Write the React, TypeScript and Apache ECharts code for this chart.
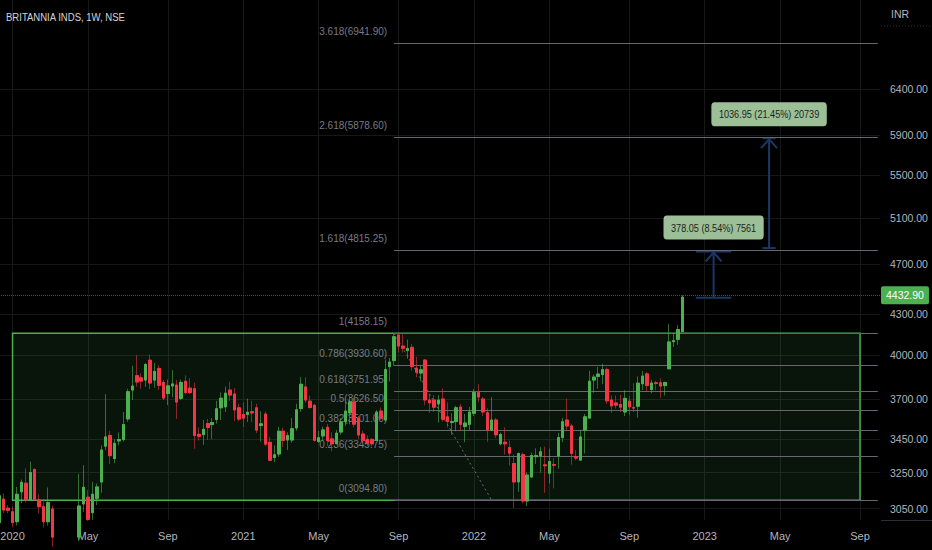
import { useEffect, useRef } from "react";
import * as echarts from "echarts";

// ---------- data ----------
const START_WEEK = "2019-12-16";
const WEEK_COUNT = 199;

// weekly candles: [open, close, low, high]
const WEEKLY_OHLC: number[][] = [
  [2975, 3120, 2960, 3132], [3102, 3042, 3025, 3133], [3052, 3041, 3025, 3069], [3033, 2975, 2950, 3060],
  [2980, 3128, 2960, 3169], [3142, 3195, 3079, 3211], [3190, 3097, 3084, 3275], [3097, 3251, 3090, 3314],
  [3268, 3097, 3090, 3276], [3097, 3060, 3025, 3128], [3060, 2980, 2950, 3102], [2980, 3082, 2960, 3166],
  [3048, 2900, 2850, 3066], [2900, 2450, 2300, 2960], [2450, 2250, 2100, 2600], [2250, 2650, 2200, 2750],
  [2650, 2800, 2600, 2900], [2800, 2900, 2750, 2970], [2900, 3064, 2880, 3244], [3075, 3167, 3033, 3293],
  [3112, 2992, 2985, 3151], [3028, 3128, 2990, 3197], [3106, 3169, 3069, 3188], [3197, 3383, 3137, 3411],
  [3406, 3462, 3383, 3734], [3471, 3349, 3300, 3498], [3332, 3423, 3305, 3447], [3438, 3446, 3411, 3490],
  [3446, 3539, 3434, 3618], [3574, 3750, 3556, 3770], [3761, 3788, 3695, 3926], [3858, 3815, 3783, 4001],
  [3843, 3821, 3770, 3873], [3828, 3935, 3783, 3946], [3965, 3808, 3768, 4004], [3828, 3887, 3777, 3946],
  [3908, 3793, 3761, 3931], [3812, 3708, 3695, 3828], [3738, 3789, 3662, 3832], [3788, 3802, 3714, 3896],
  [3795, 3682, 3574, 3828], [3706, 3812, 3697, 3832], [3820, 3745, 3732, 3860], [3774, 3745, 3734, 3841],
  [3770, 3471, 3390, 3810], [3478, 3466, 3440, 3520], [3476, 3509, 3414, 3567], [3545, 3520, 3443, 3574],
  [3538, 3551, 3448, 3580], [3570, 3639, 3545, 3690], [3645, 3707, 3567, 3745], [3651, 3740, 3618, 3785],
  [3761, 3728, 3690, 3817], [3735, 3631, 3560, 3775], [3645, 3573, 3560, 3671], [3602, 3579, 3523, 3680],
  [3602, 3616, 3554, 3705], [3620, 3612, 3554, 3690], [3645, 3504, 3486, 3671], [3532, 3543, 3434, 3622],
  [3605, 3418, 3406, 3622], [3429, 3322, 3316, 3462], [3338, 3354, 3312, 3410], [3359, 3497, 3342, 3525],
  [3497, 3440, 3400, 3520], [3443, 3470, 3383, 3490], [3443, 3512, 3426, 3580], [3517, 3632, 3500, 3671],
  [3640, 3800, 3620, 3848], [3782, 3695, 3678, 3848], [3688, 3647, 3640, 3725], [3661, 3441, 3434, 3672],
  [3434, 3457, 3425, 3498], [3468, 3505, 3437, 3525], [3522, 3440, 3406, 3543], [3450, 3420, 3375, 3490],
  [3422, 3485, 3415, 3505], [3492, 3552, 3475, 3580], [3557, 3624, 3531, 3688], [3612, 3683, 3540, 3721],
  [3683, 3541, 3522, 3710], [3579, 3474, 3450, 3592], [3480, 3440, 3426, 3500], [3447, 3424, 3406, 3472],
  [3447, 3420, 3406, 3452], [3440, 3617, 3440, 3630], [3624, 3578, 3567, 3647], [3567, 3900, 3556, 3969],
  [3920, 3952, 3818, 3980], [3962, 4133, 3925, 4152], [4146, 4065, 4020, 4158.15], [4065, 4050, 4018, 4150],
  [4033, 4047, 3975, 4112], [4056, 3920, 3892, 4080], [3910, 3881, 3848, 3990], [3876, 3898, 3820, 3928],
  [3966, 3696, 3662, 3970], [3695, 3677, 3612, 3735], [3695, 3649, 3618, 3727], [3670, 3695, 3550, 3727],
  [3702, 3572, 3557, 3771], [3587, 3557, 3520, 3681], [3551, 3557, 3475, 3610], [3557, 3645, 3497, 3657],
  [3650, 3540, 3504, 3671], [3526, 3548, 3430, 3605], [3540, 3617, 3504, 3650], [3610, 3745, 3593, 3767],
  [3745, 3715, 3681, 3802], [3702, 3618, 3593, 3715], [3613, 3505, 3432, 3641], [3505, 3567, 3497, 3715],
  [3567, 3475, 3456, 3580], [3420, 3477, 3411, 3488], [3430, 3420, 3355, 3522], [3398, 3364, 3291, 3440],
  [3303, 3197, 3052, 3355], [3197, 3362, 3142, 3368], [3355, 3091, 3079, 3368], [3091, 3236, 3064, 3251],
  [3225, 3350, 3220, 3368], [3343, 3350, 3300, 3393], [3350, 3372, 3250, 3400], [3295, 3290, 3136, 3403],
  [3247, 3315, 3188, 3391], [3297, 3293, 3161, 3334], [3347, 3458, 3272, 3487], [3458, 3556, 3430, 3580],
  [3567, 3530, 3504, 3705], [3530, 3362, 3296, 3543], [3343, 3335, 3323, 3383], [3323, 3462, 3323, 3504],
  [3504, 3587, 3362, 3605], [3579, 3820, 3579, 3891], [3828, 3848, 3743, 3866], [3853, 3869, 3770, 3918],
  [3866, 3899, 3800, 3940], [3900, 3690, 3669, 3915], [3695, 3657, 3612, 3725], [3676, 3662, 3640, 3725],
  [3666, 3649, 3618, 3730], [3618, 3706, 3592, 3760], [3688, 3651, 3596, 3721], [3646, 3643, 3617, 3807],
  [3655, 3807, 3581, 3852], [3803, 3855, 3761, 3890], [3870, 3791, 3752, 3882], [3765, 3808, 3740, 3828],
  [3810, 3805, 3760, 3823], [3810, 3788, 3710, 3840], [3791, 3812, 3725, 3816], [3905, 4095, 3905, 4228],
  [4097, 4104, 4060, 4160], [4114, 4186, 4074, 4220], [4170, 4432.9, 4170, 4448],
];

const Y_TICKS = [3050, 3250, 3450, 3700, 4000, 4300, 4700, 5100, 5500, 5900, 6400];
const Y_MIN = 2989;
const Y_MAX = 7496;

const FIB_LEVELS = ["0", "0.236", "0.382", "0.5", "0.618", "0.786", "1", "1.618", "2.618", "3.618"];
const FIB_PRICES = [3094.8, 3345.75, 3501.0, 3626.5, 3751.95, 3930.6, 4158.15, 4815.25, 5878.6, 6941.9];
const FIB_START_WEEK = 89;
const FIB_END_WEEK = 198;
const FIB_TREND_END_WEEK = 111;
const BOX_START_WEEK = 3;
const BOX_END_WEEK = 194;
const LAST_PRICE = 4432.9;

const RANGE_FROM = [4427.1, 4834.2];
const RANGE_TO = [4805.15, 5871.15];
const RANGE_START_WEEK = [157, 172];
const RANGE_END_WEEK = [165, 175];
const RANGE_TEXT = ["378.05 (8.54%) 7561", "1036.95 (21.45%) 20739"];

const TITLE = "BRITANNIA INDS, 1W, NSE";
const CURRENCY = "INR";

// ---------- styling ----------
const FONT = '"Liberation Sans", Arial, sans-serif';
const UP = "#4caf50";
const DOWN = "#f23645";
const UP_WICK = "rgba(76,175,80,0.6)";
const DOWN_WICK = "rgba(242,54,69,0.55)";
const GRID_COLOR = "#151815";
const AXIS_TEXT = "#b2b5be";
const FIB_COLOR = "#666870";
const FIB_TEXT = "#787b86";
const ARROW = "#1c3764";
const LABEL_BG = "#9dbf97";
const SQUEEZE = 0.83;

const lnv = (v: number) => Math.log(v);

function buildWeeks(): string[] {
  const d0 = new Date(START_WEEK + "T00:00:00Z").getTime();
  const out: string[] = [];
  for (let i = 0; i < WEEK_COUNT; i++) {
    out.push(new Date(d0 + i * 7 * 86400000).toISOString().slice(0, 10));
  }
  return out;
}

const isMarkWeek = (v: string) => {
  const m = +v.slice(5, 7);
  const day = +v.slice(8, 10);
  return day <= 7 && (m === 1 || m === 5 || m === 9);
};
const labelFor = (v: string) => {
  const m = +v.slice(5, 7);
  return m === 1 ? v.slice(0, 4) : m === 5 ? "May" : "Sep";
};

export default function App() {
  const ref = useRef<HTMLDivElement>(null);

  useEffect(() => {
    const chart = echarts.init(ref.current!, null, { renderer: "svg" });
    const weeks = buildWeeks();

    const wickData = WEEKLY_OHLC.map(([o, c, l, h]) => [lnv(o), lnv(c), lnv(l), lnv(h)]);
    const bodyData = WEEKLY_OHLC.map(([o, c]) => [lnv(o), lnv(c), lnv(Math.min(o, c)), lnv(Math.max(o, c))]);

    const fibLines = FIB_PRICES.map((p) => [
      { coord: [FIB_START_WEEK, lnv(p)] },
      { coord: [FIB_END_WEEK, lnv(p)] },
    ]);
    const fibLabels = FIB_PRICES.map((p, k) => ({
      coord: [FIB_START_WEEK, lnv(p)],
      label: {
        show: true,
        position: "left",
        distance: 7,
        offset: [0, -12],
        formatter: `${FIB_LEVELS[k]}(${p.toFixed(2)})`,
        color: FIB_TEXT,
        fontSize: 10,
        fontFamily: FONT,
      },
    }));

    const option: any = {
      animation: false,
      backgroundColor: "#000000",
      textStyle: { fontFamily: FONT },
      grid: { left: -3, right: 52, top: 0, bottom: 30, outerBoundsMode: "none" },
      xAxis: {
        type: "category",
        data: weeks,
        boundaryGap: true,
        axisLine: { show: false },
        axisTick: { show: false },
        axisLabel: {
          interval: (_i: number, v: string) => isMarkWeek(v),
          formatter: (v: string) => labelFor(v),
          color: AXIS_TEXT,
          fontSize: 11,
          fontFamily: FONT,
          margin: 10,
        },
        splitLine: {
          show: true,
          alignWithLabel: true,
          interval: (_i: number, v: string) => isMarkWeek(v),
          lineStyle: { color: GRID_COLOR, width: 1 },
        },
      },
      yAxis: {
        type: "value",
        position: "right",
        min: lnv(Y_MIN),
        max: lnv(Y_MAX),
        axisLine: { show: false },
        axisTick: { show: false, customValues: Y_TICKS.map(lnv) },
        axisLabel: {
          customValues: Y_TICKS.map(lnv),
          formatter: (v: number) => Math.exp(v).toFixed(2),
          color: AXIS_TEXT,
          fontSize: 10.5,
          fontFamily: FONT,
          margin: 10,
        },
        splitLine: { show: true, lineStyle: { color: GRID_COLOR, width: 1 } },
      },
      series: [
        {
          type: "line",
          data: [],
          clip: false,
          silent: true,
          symbol: "none",
          markArea: {
            silent: true,
            z: 1,
            itemStyle: { color: "rgba(76,175,80,0.12)", borderColor: UP, borderWidth: 1.5 },
            data: [[
              { coord: [BOX_START_WEEK, lnv(FIB_PRICES[6])] },
              { coord: [BOX_END_WEEK, lnv(FIB_PRICES[0])] },
            ]],
          },
          markLine: {
            silent: true,
            z: 1.2,
            symbol: ["none", "none"],
            label: { show: false },
            lineStyle: { color: FIB_COLOR, width: 1, type: "solid" },
            data: [
              ...fibLines,
              [
                { coord: [FIB_START_WEEK, lnv(FIB_PRICES[6])], lineStyle: { color: "#6b6e76", type: [2, 3], width: 1 } },
                { coord: [FIB_TREND_END_WEEK, lnv(FIB_PRICES[0])] },
              ],
              {
                yAxis: lnv(LAST_PRICE),
                lineStyle: { color: "rgba(76,175,80,0.55)", type: "dotted", width: 1 },
                label: {
                  show: true,
                  position: "end",
                  distance: 1,
                  formatter: LAST_PRICE.toFixed(2),
                  backgroundColor: UP,
                  color: "#ffffff",
                  padding: [4, 5, 3, 5],
                  borderRadius: 2,
                  fontSize: 10.5,
                  fontFamily: FONT,
                },
              },
            ],
          },
          markPoint: {
            silent: true,
            z: 1.5,
            symbol: "circle",
            symbolSize: 0,
            itemStyle: { color: "transparent" },
            data: fibLabels,
          },
        },
        {
          name: "wicks",
          type: "candlestick",
          z: 2,
          barWidth: 3,
          clip: true,
          silent: true,
          itemStyle: { color: UP_WICK, color0: DOWN_WICK, borderColor: UP_WICK, borderColor0: DOWN_WICK, borderWidth: 1 },
          data: wickData,
        },
        {
          name: "bodies",
          type: "candlestick",
          z: 3,
          barWidth: 3,
          clip: true,
          silent: true,
          itemStyle: { color: UP, color0: DOWN, borderColor: UP, borderColor0: DOWN, borderWidth: 1 },
          data: bodyData,
        },
      ],
    };

    chart.setOption(option);

    const px = (i: number, v: number) => chart.convertToPixel({ gridIndex: 0 }, [i, lnv(v)]) as number[];
    const lineStyle = { stroke: ARROW, lineWidth: 2 };
    const graphics: any[] = [
      {
        type: "text",
        x: 6,
        y: 17,
        scaleX: SQUEEZE,
        style: { text: TITLE, fill: "#d1d4dc", font: `11.5px ${FONT}`, align: "left", verticalAlign: "middle" },
      },
      {
        type: "text",
        x: 891,
        y: 14,
        style: { text: CURRENCY, fill: AXIS_TEXT, font: `10.5px ${FONT}`, align: "left", verticalAlign: "middle" },
      },
      {
        type: "line",
        shape: { x1: 881, y1: 26, x2: 932, y2: 26 },
        style: { stroke: "#2a2e39", lineWidth: 1, lineDash: [1, 2] },
      },
      {
        type: "line",
        shape: { x1: 881, y1: 520.5, x2: 932, y2: 520.5 },
        style: { stroke: "#2a2e39", lineWidth: 1 },
      },
    ];

    RANGE_TEXT.forEach((text, k) => {
      const xs = px(RANGE_START_WEEK[k], RANGE_FROM[k])[0];
      const xe = px(RANGE_END_WEEK[k], RANGE_FROM[k])[0];
      const yb = px(RANGE_START_WEEK[k], RANGE_FROM[k])[1];
      const yt = px(RANGE_START_WEEK[k], RANGE_TO[k])[1];
      const xm = (xs + xe) / 2;
      graphics.push(
        { type: "line", shape: { x1: xs, y1: yb, x2: xe, y2: yb }, style: lineStyle },
        { type: "line", shape: { x1: xs, y1: yt, x2: xe, y2: yt }, style: lineStyle },
        { type: "line", shape: { x1: xm, y1: yb, x2: xm, y2: yt + 1 }, style: lineStyle },
        {
          type: "polyline",
          shape: { points: [[xm - 8, yt + 10], [xm, yt + 1], [xm + 8, yt + 10]] },
          style: { stroke: ARROW, lineWidth: 2, fill: null },
        },
        {
          type: "text",
          x: xm,
          y: yt - 12,
          scaleX: SQUEEZE,
          style: {
            text,
            fill: "#1a1f1a",
            font: `11px ${FONT}`,
            align: "center",
            verticalAlign: "bottom",
            backgroundColor: LABEL_BG,
            padding: [7, 9, 6, 9],
            borderRadius: 4,
          },
        }
      );
    });

    chart.setOption({ graphic: graphics });

    return () => chart.dispose();
  }, []);

  return (
    <div
      ref={ref}
      style={{ position: "fixed", left: 0, top: 0, width: 932, height: 550, background: "#000" }}
    />
  );
}
